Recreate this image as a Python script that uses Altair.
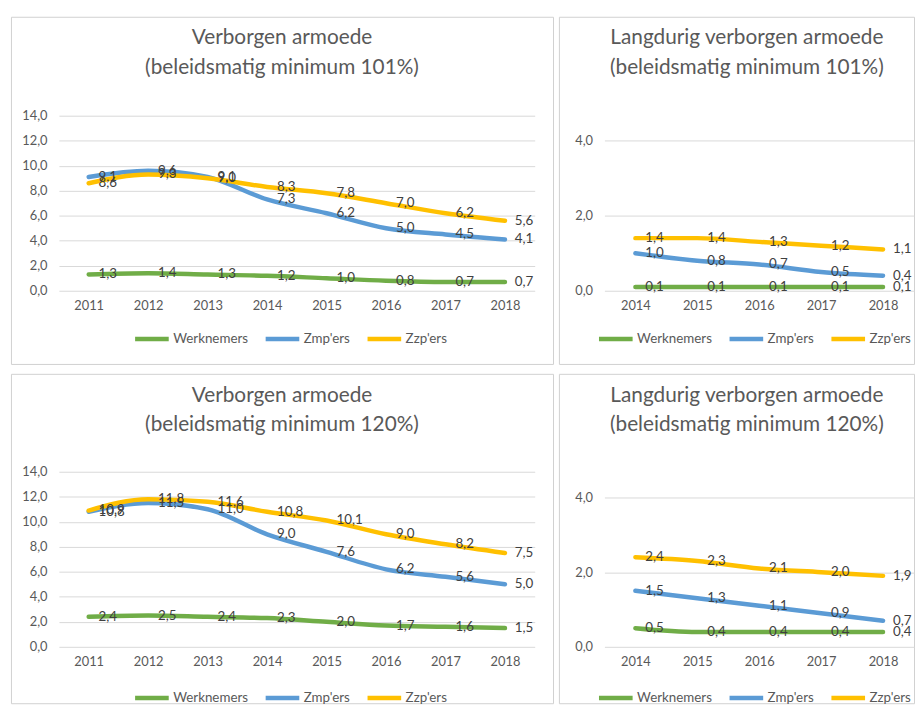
import altair as alt
import pandas as pd

SERIES = ["Werknemers", "Zmp'ers", "Zzp'ers"]
COLORS = ["#70AD47", "#5B9BD5", "#FFC000"]

YEARS_LONG = [2011, 2012, 2013, 2014, 2015, 2016, 2017, 2018]
YEARS_SHORT = [2014, 2015, 2016, 2017, 2018]

TITLES = [
    "Verborgen armoede\n(beleidsmatig minimum 101%)",
    "Langdurig verborgen armoede\n(beleidsmatig minimum 101%)",
    "Verborgen armoede\n(beleidsmatig minimum 120%)",
    "Langdurig verborgen armoede\n(beleidsmatig minimum 120%)",
]

# Verborgen armoede, 101%
p1_werknemers = [1.3, 1.4, 1.3, 1.2, 1.0, 0.8, 0.7, 0.7]
p1_zmp = [9.1, 9.6, 9.1, 7.3, 6.2, 5.0, 4.5, 4.1]
p1_zzp = [8.6, 9.3, 9.0, 8.3, 7.8, 7.0, 6.2, 5.6]

# Langdurig verborgen armoede, 101%
p2_werknemers = [0.1, 0.1, 0.1, 0.1, 0.1]
p2_zmp = [1.0, 0.8, 0.7, 0.5, 0.4]
p2_zzp = [1.4, 1.4, 1.3, 1.2, 1.1]

# Verborgen armoede, 120%
p3_werknemers = [2.4, 2.5, 2.4, 2.3, 2.0, 1.7, 1.6, 1.5]
p3_zmp = [10.8, 11.5, 11.0, 9.0, 7.6, 6.2, 5.6, 5.0]
p3_zzp = [10.9, 11.8, 11.6, 10.8, 10.1, 9.0, 8.2, 7.5]

# Langdurig verborgen armoede, 120%
p4_werknemers = [0.5, 0.4, 0.4, 0.4, 0.4]
p4_zmp = [1.5, 1.3, 1.1, 0.9, 0.7]
p4_zzp = [2.4, 2.3, 2.1, 2.0, 1.9]

Y_TICKS_LONG = [0, 2, 4, 6, 8, 10, 12, 14]
Y_TICKS_SHORT = [0, 2, 4]

FONT = "Lato"
GREY = "#595959"
COMMA = "replace(format(datum.value, '.1f'), '.', ',')"


def make_df(years, a, b, c):
    rows = []
    for s, vals in zip(SERIES, [a, b, c]):
        for y, v in zip(years, vals):
            rows.append({"year": str(y), "series": s, "value": v})
    return pd.DataFrame(rows)


def panel(df, title, ymax, yticks, W, H, xr, yr, title_x, legend_x, legend_y):
    xenc = alt.X(
        "year:O",
        scale=alt.Scale(type="point", range=xr, padding=0.5),
        axis=alt.Axis(
            title=None, orient="bottom", offset=-(H - yr[0]), domain=False,
            ticks=False, grid=False, labelAngle=0, labelPadding=9,
            labelColor=GREY, labelFontSize=13, labelFont=FONT,
        ),
    )
    yenc = alt.Y(
        "value:Q",
        scale=alt.Scale(domain=[0, ymax], range=yr, nice=False, zero=True),
        axis=alt.Axis(
            title=None, orient="left", offset=-xr[0], values=yticks,
            labelExpr=COMMA, domain=False, ticks=False, grid=True,
            gridColor="#d9d9d9", gridWidth=1, labelPadding=12,
            labelColor=GREY, labelFontSize=13, labelFont=FONT,
        ),
    )
    base = alt.Chart(df)
    lines = base.mark_line(strokeWidth=4.5, interpolate="monotone", strokeCap="round").encode(
        x=xenc,
        y=yenc,
        color=alt.Color(
            "series:N",
            scale=alt.Scale(domain=SERIES, range=COLORS),
            legend=alt.Legend(
                orient="none", legendX=legend_x, legendY=legend_y, direction="horizontal",
                title=None, symbolType="stroke", symbolSize=1156, symbolStrokeWidth=4.5,
                symbolOpacity=1, labelOffset=2, columnPadding=8, labelFontSize=13.5,
                labelColor=GREY, labelFont=FONT, padding=0,
            ),
        ),
    )
    labels = base.transform_calculate(
        lbl="replace(format(datum.value, '.1f'), '.', ',')"
    ).mark_text(align="left", baseline="middle", dx=10, fontSize=13.5, color="#404040", font=FONT).encode(
        x=xenc, y=yenc, text="lbl:N"
    )
    ttl = alt.Chart(pd.DataFrame({"t": [title]})).mark_text(
        lineBreak="\n", lineHeight=30, fontSize=21, color=GREY, font=FONT,
        align="center", baseline="top",
    ).encode(x=alt.value(title_x), y=alt.value(11), text="t:N")
    return alt.layer(lines, labels, ttl).properties(width=W, height=H)


W1, W2 = 548, 359
H1, H2 = 351, 333

c1 = panel(make_df(YEARS_LONG, p1_werknemers, p1_zmp, p1_zzp), TITLES[0], 14, Y_TICKS_LONG,
           W1, H1, [48.5, 529.5], [277, 100], 274, 123, 306)
c2 = panel(make_df(YEARS_SHORT, p2_werknemers, p2_zmp, p2_zzp), TITLES[1], 4, Y_TICKS_SHORT,
           W2, H1, [46, 359], [277, 125], 190, 38, 306)
c3 = panel(make_df(YEARS_LONG, p3_werknemers, p3_zmp, p3_zzp), TITLES[2], 14, Y_TICKS_LONG,
           W1, H2, [48.5, 529.5], [276, 99], 274, 123, 308)
c4 = panel(make_df(YEARS_SHORT, p4_werknemers, p4_zmp, p4_zzp), TITLES[3], 4, Y_TICKS_SHORT,
           W2, H2, [46, 359], [276, 125], 190, 38, 308)

row1 = alt.hconcat(c1, c2, spacing=4).resolve_scale(color="independent", x="independent", y="independent")
row2 = alt.hconcat(c3, c4, spacing=4).resolve_scale(color="independent", x="independent", y="independent")

chart = alt.vconcat(row1, row2, spacing=8).resolve_scale(
    color="independent", x="independent", y="independent"
).properties(
    padding={"left": 2, "top": 4, "right": 0, "bottom": 0}
).configure(font=FONT).configure_view(stroke="#d0d0d0", strokeWidth=1)

chart.save("out.html", embed_options={"renderer": "svg", "actions": False})
